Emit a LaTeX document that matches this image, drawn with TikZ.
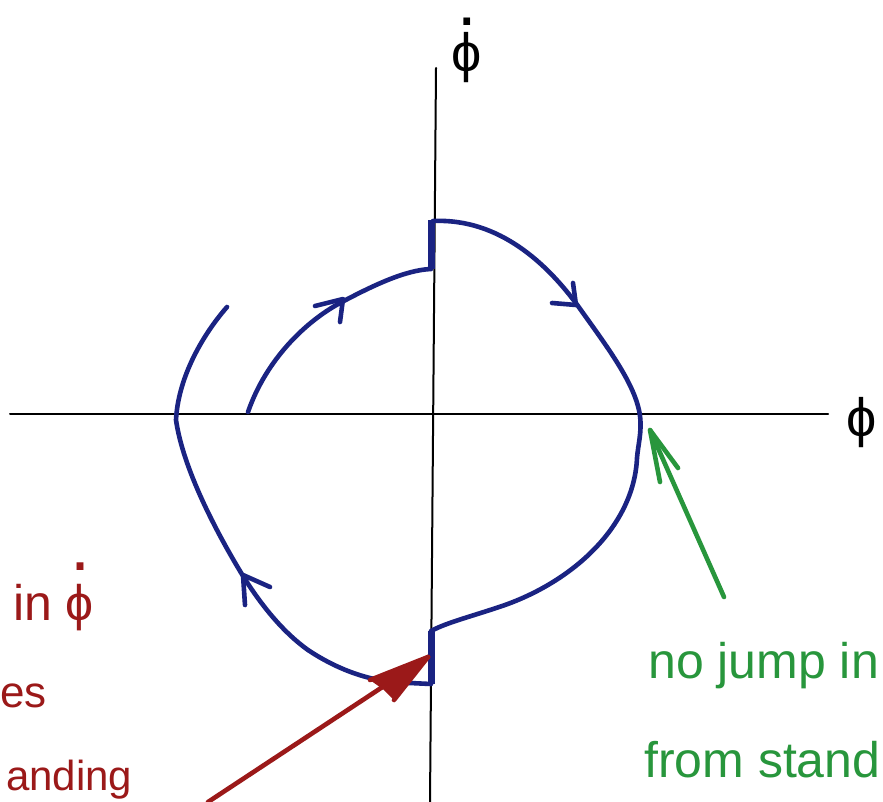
\documentclass[tikz,border=0pt]{standalone}
\usepackage{fontspec}
\setmainfont{Liberation Sans}
\definecolor{pen}{HTML}{1A2382}
\definecolor{redpen}{HTML}{9B1919}
\definecolor{greenpen}{HTML}{28963C}
% phi with a dot set high above it (one text)
\newcommand{\phidotted}[2]{{\ooalign{ϕ\cr\hidewidth\raisebox{#1}{\fontsize{#2}{#2}\selectfont .}\hidewidth\cr}}}
\begin{document}
\begin{tikzpicture}[x=1pt,y=-1pt,
  axis/.style={line width=2pt, black, line cap=round},
  traj/.style={line width=4.6pt, pen, line cap=round, line join=round},
  jumpseg/.style={line width=7pt, pen},
  chev/.style={line width=4.6pt, pen, line cap=round, line join=round},
  redarrow/.style={line width=4.6pt, redpen, line cap=round, line join=round},
  greenarrow/.style={line width=4.6pt, greenpen, line cap=round, line join=round},
  axlabel/.style={inner sep=0pt, anchor=base, font=\fontsize{54}{54}\selectfont},
  redtext/.style={inner sep=0pt, text=redpen, font=\fontsize{50}{50}\selectfont},
  greentext/.style={inner sep=0pt, anchor=base west, text=greenpen, font=\fontsize{50}{50}\selectfont}
]
\useasboundingbox (0,0) rectangle (883,802);
\fill[white] (0,0) rectangle (883,802);
% axes
\coordinate (xL) at (10,414);
\coordinate (xR) at (828,414);
\coordinate (yT) at (436,68);
\coordinate (yB) at (430,802);
\draw[axis] (xL) -- (xR);
\draw[axis] (yT) -- (yB);
\node[axlabel] (phidot) at (467,72) {\phidotted{46pt}{70}};
\node[axlabel, anchor=base west] (phi) at (846,436) {ϕ};

% jump segments on the vertical axis
\coordinate (j1t) at (431,220);
\coordinate (j1b) at (431,269);
\coordinate (j2t) at (431,631);
\coordinate (j2b) at (431,684);
\draw[jumpseg] (j1t) -- (j1b);
\draw[jumpseg] (j2t) -- (j2b);

% right-hand trajectory
\draw[traj] (433,221) .. controls (500,218) and (548,265) .. (578,306)
  .. controls (608,348) and (636,385) .. (640,416)
  .. controls (642,432) and (638,445) .. (637,458)
  .. controls (634,525) and (575,580) .. (505,605)
  .. controls (470,617) and (448,622) .. (j2t);
% left-hand trajectory
\draw[traj] (j2b) -- (410,683) .. controls (370,683) and (335,668) .. (308,650)
  .. controls (280,630) and (258,600) .. (243,576)
  .. controls (215,530) and (183,468) .. (176,420)
  .. controls (178,380) and (200,338) .. (227,307);
% inner arc
\draw[traj] (248,412) .. controls (266,360) and (305,322) .. (340,303)
  .. controls (372,286) and (405,270) .. (j1b);

% direction chevrons
\coordinate (c1) at (576,305);
\draw[chev] (552,303) -- (c1) -- (573,283);
\coordinate (c2) at (343,299);
\draw[chev] (315,306) -- (c2) -- (340,322);
\coordinate (c3) at (243,575);
\draw[chev] (270,587) -- (c3) -- (245,605);

% red arrow
\coordinate (rtail) at (208,802);
\coordinate (rtip) at (428,657);
\draw[redarrow] (rtail) -- (rtip);
\fill[redpen] (rtip) -- (370,680) -- (384,690) -- (394,700) -- cycle;
\draw[redarrow] (rtip) -- (370,680);
\draw[redarrow] (rtip) -- (394,700);

% green arrow
\coordinate (gtail) at (724,597);
\coordinate (gtip) at (650,430);
\draw[greenarrow] (gtail) -- (gtip);
\draw[greenarrow] (660,482) -- (gtip) -- (678,468);

% red text
\node[redtext, anchor=base west] (r1) at (13,620) {in \phidotted{50pt}{72}};
\node[redtext, anchor=base west, font=\fontsize{44}{44}\selectfont] (r2) at (0,707) {es};
\node[redtext, anchor=base west, font=\fontsize{42}{42}\selectfont] (r3) at (6,790) {anding};

% green text
\node[greentext] (g1) at (648,678) {no jump in};
\node[greentext] (g2) at (644,777) {from stand};
\end{tikzpicture}
\end{document}
